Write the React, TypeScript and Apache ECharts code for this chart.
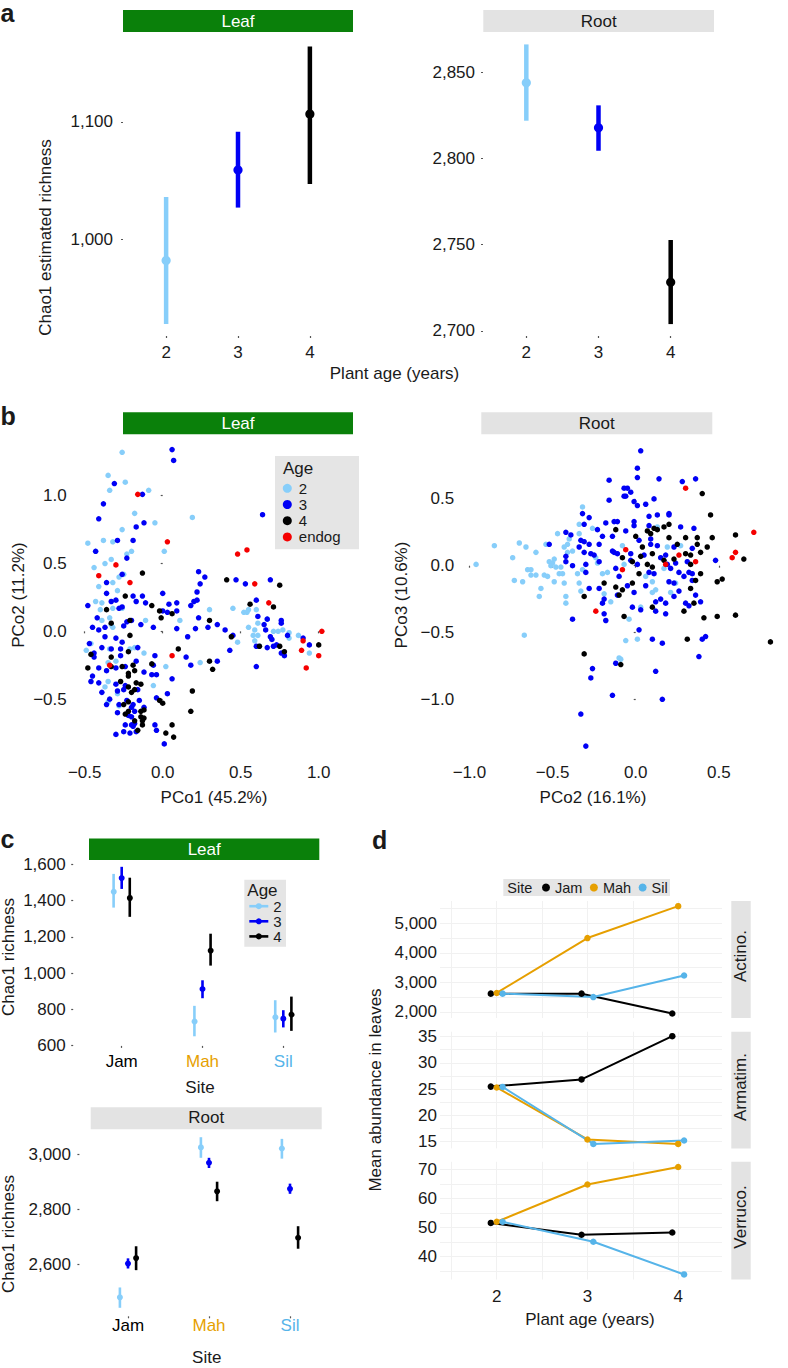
import React, { useEffect, useRef } from 'react';
import * as echarts from 'echarts';

const FONT = '"Liberation Sans", Arial, Helvetica, sans-serif';
const INK = '#1a1a1a';
const STRIP_GREEN = '#0a800a';
const STRIP_GREY = '#e3e3e3';
const LEGEND_GREY = '#e5e5e5';

const AGE_COLORS = ['#87CEFA', '#0000F5', '#000000'];
const ENDOG_COLOR = '#F50000';
const SITE_COLORS = ['#000000', '#E69F00', '#56B4E9'];

// ---------- panel a : Chao1 by plant age ----------
const ageNames = ['2', '3', '4'];
const plantAge = [2, 3, 4];
const leafChaoMean = [982, 1059, 1106.5];
const leafChaoLow = [928, 1027, 1047];
const leafChaoHigh = [1036, 1091.5, 1164];
const rootChaoMean = [2843.8, 2817.7, 2728.2];
const rootChaoLow = [2821.8, 2804.4, 2704];
const rootChaoHigh = [2866, 2830.7, 2752.7];
const leafChaoTicks = [1000, 1100];
const rootChaoTicks = [2700, 2750, 2800, 2850];

// ---------- panel b : PCoA ----------
const leafPcoAge2 = [
  [-0.26, 1.32], [-0.35, 1.15], [-0.24, 1.1], [-0.34, 1.04], [-0.09, 1.04], [-0.18, 0.87], [-0.05, 0.8], [-0.26, 0.75],
  [0.19, 0.84], [-0.48, 0.65], [-0.43, 0.59], [-0.38, 0.67], [-0.32, 0.66], [-0.2, 0.59], [-0.23, 0.57], [0.01, 0.59],
  [-0.44, 0.47], [-0.37, 0.5], [-0.33, 0.53], [-0.41, 0.33], [-0.25, 0.42], [-0.28, 0.4], [-0.32, 0.36], [-0.29, 0.3],
  [-0.43, 0.22], [-0.39, 0.21], [-0.32, 0.17], [-0.26, 0.17], [0.3, 0.16], [0.45, 0.17], [0.54, 0.14], [0.55, 0.16],
  [0.52, 0.14], [-0.39, 0.08], [-0.34, 0.1], [-0.32, 0.03], [-0.11, 0.08], [0.11, 0.08], [0.48, -0.08], [0.55, 0.03],
  [0.59, 0.01], [0.61, -0.03], [0.71, 0.0], [0.74, 0.0], [0.77, 0.01], [0.81, -0.01], [0.87, -0.03], [0.94, -0.16],
  [0.58, -0.03], [-0.49, -0.14], [-0.35, -0.23], [-0.3, -0.22], [-0.21, -0.13], [-0.18, -0.12], [-0.12, -0.16],
  [0.02, -0.26], [0.24, -0.23], [-0.37, -0.41], [-0.35, -0.37], [-0.06, -0.4], [-0.29, -0.46], [0.6, 0.16],
  [-0.4, 0.16], [-0.33, 0.05], [-0.34, -0.13], [-0.28, -0.55], [-0.35, -0.52], [-0.46, -0.09], [0.61, 0.06],
  [0.67, 0.09], [0.81, -0.05], [0.59, -0.07], [0.62, -0.11],
];
const leafPcoAge3 = [
  [0.06, 1.34], [0.07, 1.26], [-0.31, 1.09], [-0.13, 1.01], [-0.38, 0.94], [-0.41, 0.83], [-0.17, 0.77], [-0.12, 0.8],
  [0.64, 0.86], [-0.43, 0.59], [-0.29, 0.67], [-0.19, 0.67], [-0.23, 0.54], [-0.26, 0.42], [-0.36, 0.36], [-0.36, 0.28],
  [0.23, 0.44], [0.24, 0.35], [0.27, 0.4], [0.22, 0.29], [0.47, 0.38], [0.53, 0.35], [0.69, 0.38], [0.6, 0.23],
  [-0.48, 0.19], [-0.33, 0.22], [-0.28, 0.17], [-0.19, 0.26], [-0.17, 0.22], [-0.13, 0.26], [-0.11, 0.21], [0.0, 0.28],
  [0.04, 0.2], [0.09, 0.21], [0.09, 0.15], [0.18, 0.19], [0.2, 0.22], [0.23, 0.1], [0.67, 0.09], [0.76, 0.08],
  [0.76, 0.06], [-0.45, 0.03], [-0.41, 0.01], [-0.42, 0.1], [-0.37, 0.03], [-0.25, 0.04], [-0.23, 0.07], [-0.2, 0.08],
  [-0.06, 0.03], [0.03, 0.14], [0.09, 0.02], [0.16, -0.04], [0.21, 0.02], [0.29, 0.03], [0.35, 0.05], [0.4, 0.01],
  [0.45, -0.03], [0.66, 0.01], [0.9, -0.05], [0.94, -0.1], [0.6, -0.11], [0.67, -0.12], [0.7, -0.06], [0.73, -0.1],
  [0.76, -0.16], [0.78, -0.18], [0.71, -0.11], [-0.47, -0.09], [-0.44, -0.16], [-0.39, -0.12], [-0.33, -0.13],
  [-0.27, -0.13], [-0.27, -0.18], [-0.16, -0.12], [-0.05, -0.18], [0.15, -0.19], [0.18, -0.25], [0.35, -0.22],
  [0.43, -0.14], [0.6, -0.26], [-0.41, -0.27], [-0.36, -0.29], [-0.3, -0.27], [-0.24, -0.26], [-0.12, -0.3],
  [-0.04, -0.32], [-0.46, -0.37], [-0.41, -0.38], [-0.3, -0.39], [-0.24, -0.4], [-0.25, -0.43], [-0.29, -0.44],
  [-0.39, -0.45], [-0.34, -0.5], [-0.36, -0.54], [-0.28, -0.54], [-0.23, -0.51], [-0.16, -0.43], [-0.15, -0.51],
  [-0.12, -0.56], [-0.04, -0.49], [0.03, -0.46], [-0.2, -0.56], [-0.18, -0.59], [-0.29, -0.6], [-0.22, -0.62],
  [-0.2, -0.63], [-0.24, -0.69], [-0.2, -0.69], [-0.19, -0.7], [-0.3, -0.76], [-0.25, -0.74], [-0.17, -0.74],
  [-0.05, -0.69], [-0.04, -0.73], [0.01, -0.83], [-0.3, 0.23], [-0.26, 0.18], [0.0, 0.15], [0.22, 0.23],
  [-0.14, 0.05], [-0.37, -0.04], [-0.3, -0.05], [-0.26, -0.08], [-0.44, -0.19], [-0.17, -0.22], [-0.06, -0.25],
  [-0.45, -0.33], [-0.07, -0.32], [0.06, -0.35], [-0.19, -0.54], [-0.21, -0.75], [-0.18, -0.68], [0.61, 0.11],
  [0.65, 0.05], [0.69, -0.04], [0.8, -0.03],
];
const leafPcoAge4 = [
  [-0.13, 0.43], [-0.24, 0.26], [0.41, 0.38], [0.75, 0.34], [0.56, 0.2], [0.71, 0.18], [-0.36, 0.16], [-0.07, 0.19],
  [-0.02, 0.15], [0.3, 0.08], [-0.33, 0.06], [-0.01, 0.1], [0.44, -0.04], [1.0, -0.1], [0.62, -0.11], [0.75, -0.11],
  [0.78, -0.15], [-0.46, -0.17], [-0.22, -0.15], [0.1, -0.13], [0.3, -0.22], [0.32, -0.28], [-0.48, -0.27],
  [-0.33, -0.26], [-0.26, -0.26], [-0.19, -0.25], [-0.18, -0.29], [-0.07, -0.24], [-0.27, -0.37], [-0.22, -0.33],
  [-0.22, -0.41], [-0.18, -0.43], [-0.17, -0.38], [-0.14, -0.39], [-0.22, -0.52], [-0.2, -0.45], [-0.02, -0.51],
  [0.0, -0.53], [0.19, -0.44], [-0.25, -0.54], [-0.22, -0.59], [-0.14, -0.59], [-0.12, -0.58], [-0.24, -0.61],
  [-0.18, -0.66], [-0.14, -0.63], [-0.13, -0.66], [-0.12, -0.64], [-0.13, -0.69], [-0.16, -0.73], [0.02, -0.75],
  [0.06, -0.69], [0.07, -0.78], [0.18, -0.59], [0.06, 0.13], [-0.21, 0.08], [-0.21, -0.03], [-0.33, -0.19],
  [-0.22, -0.31],
];
const leafPcoEndog = [
  [-0.16, 1.01], [0.03, 0.66], [0.48, 0.57], [0.54, 0.6], [-0.3, 0.49], [-0.41, 0.41], [-0.21, 0.36], [0.59, 0.35],
  [0.68, 0.21], [0.06, -0.18], [0.9, -0.07], [1.02, 0.0], [0.89, -0.14], [1.0, -0.18], [0.92, -0.27], [-0.34, -0.25],
];
const rootPcoAge2 = [
  [-0.96, 0.01], [-0.85, 0.15], [-0.74, 0.06], [-0.7, 0.17], [-0.66, 0.14], [-0.73, -0.11], [-0.68, -0.12],
  [-0.65, -0.03], [-0.63, -0.03], [-0.63, -0.07], [-0.6, -0.07], [-0.6, 0.1], [-0.57, -0.17], [-0.58, -0.23],
  [-0.55, -0.07], [-0.53, -0.08], [-0.54, 0.16], [-0.47, 0.24], [-0.52, 0.03], [-0.5, 0.02], [-0.49, 0.05],
  [-0.51, 0.0], [-0.48, -0.01], [-0.49, -0.12], [-0.46, -0.06], [-0.43, -0.13], [-0.44, -0.06], [-0.45, -0.01],
  [-0.42, -0.23], [-0.42, -0.28], [-0.41, 0.1], [-0.41, 0.16], [-0.43, 0.14], [-0.4, 0.2], [-0.38, 0.11],
  [-0.35, -0.06], [-0.34, -0.13], [-0.33, -0.19], [-0.32, -0.03], [-0.34, 0.31], [-0.32, 0.44], [-0.34, 0.24],
  [-0.26, 0.28], [-0.24, 0.06], [-0.23, 0.02], [-0.2, -0.06], [-0.17, -0.05], [-0.19, -0.21], [-0.15, -0.27],
  [-0.67, -0.52], [-0.1, -0.69], [-0.08, 0.15], [-0.07, 0.01], [0.06, -0.08], [0.1, -0.12], [0.1, -0.2],
  [0.12, -0.18], [0.19, 0.14], [0.21, -0.2], [0.24, -0.13], [0.27, 0.15], [0.17, -0.02], [-0.04, -0.4],
  [-0.06, -0.56], [0.01, -0.55], [0.03, -0.31], [0.13, 0.29], [-0.09, -0.7],
];
const rootPcoAge3 = [
  [-0.16, 0.64], [-0.07, 0.58], [-0.07, 0.52], [-0.16, 0.49], [-0.32, 0.39], [-0.28, 0.36], [-0.31, 0.31],
  [-0.23, 0.27], [-0.18, 0.32], [-0.13, 0.33], [-0.11, 0.33], [-0.14, 0.22], [-0.2, 0.22], [-0.39, 0.23],
  [-0.42, 0.25], [-0.52, 0.16], [-0.33, 0.19], [-0.31, 0.18], [-0.28, 0.16], [-0.22, 0.16], [-0.34, 0.14],
  [-0.31, 0.1], [-0.27, 0.09], [-0.25, 0.08], [-0.42, 0.07], [-0.42, 0.03], [-0.38, 0.0], [-0.3, 0.01],
  [-0.22, 0.03], [-0.14, 0.11], [-0.13, 0.1], [-0.11, 0.09], [-0.3, -0.05], [-0.28, -0.17], [-0.22, -0.17],
  [-0.19, -0.25], [-0.2, -0.28], [-0.19, -0.36], [-0.18, -0.41], [-0.38, -0.4], [-0.1, -0.08], [-0.11, -0.22],
  [-0.12, -0.02], [-0.26, -0.77], [-0.27, -0.84], [-0.14, -0.97], [-0.33, -1.11], [-0.3, -1.35], [-0.12, -0.73],
  [0.03, 0.86], [0.01, 0.73], [0.01, 0.66], [0.14, 0.65], [0.28, 0.63], [0.36, 0.65], [-0.05, 0.58], [-0.03, 0.55],
  [-0.06, 0.52], [-0.01, 0.48], [0.01, 0.45], [0.06, 0.46], [0.11, 0.5], [0.2, 0.39], [0.2, 0.38], [0.13, 0.38],
  [0.08, 0.37], [-0.01, 0.33], [-0.01, 0.3], [0.08, 0.3], [-0.06, 0.26], [0.27, 0.29], [0.35, 0.28], [0.02, 0.19],
  [0.09, 0.2], [0.09, 0.16], [0.13, 0.15], [0.23, 0.14], [0.34, 0.13], [-0.03, 0.09], [0.05, 0.08], [0.15, 0.06],
  [0.18, 0.08], [-0.03, 0.04], [0.01, 0.01], [0.19, 0.01], [0.24, 0.02], [0.31, 0.03], [0.21, -0.02], [0.08, -0.05],
  [0.11, -0.06], [0.26, -0.05], [0.29, -0.08], [0.32, -0.05], [0.34, -0.06], [0.34, -0.11], [0.2, -0.12],
  [0.23, -0.13], [-0.05, -0.15], [-0.01, -0.2], [0.06, -0.15], [0.15, -0.25], [0.12, -0.27], [0.18, -0.28],
  [0.23, -0.23], [0.26, -0.19], [0.3, -0.28], [0.32, -0.3], [0.36, -0.22], [0.39, -0.27], [-0.02, -0.31],
  [0.03, -0.33], [0.12, -0.34], [0.18, -0.36], [0.02, -0.48], [0.1, -0.55], [0.16, -0.58], [0.4, -0.55],
  [0.42, -0.53], [0.38, -0.68], [0.12, -0.79], [0.16, -1.0], [0.48, 0.04],
];
const rootPcoAge4 = [
  [-0.12, 0.27], [-0.08, 0.06], [-0.19, -0.13], [-0.12, -0.16], [-0.1, -0.22], [-0.08, -0.18], [-0.31, -0.23],
  [-0.07, -0.38], [-0.31, -0.66], [-0.09, -0.74], [0.4, 0.54], [0.45, 0.38], [0.2, 0.31], [0.11, 0.28], [0.07, 0.26],
  [0.09, 0.24], [0.0, 0.22], [0.2, 0.21], [0.3, 0.21], [0.37, 0.21], [0.46, 0.21], [0.6, 0.23], [0.04, 0.14],
  [0.25, 0.16], [0.37, 0.16], [0.43, 0.14], [0.03, 0.07], [0.1, 0.09], [0.39, 0.1], [0.3, 0.09], [0.33, 0.08],
  [0.65, 0.05], [-0.02, 0.03], [0.07, 0.01], [0.1, -0.01], [0.17, 0.04], [0.23, 0.05], [0.33, 0.01], [0.39, -0.06],
  [0.36, -0.11], [0.02, -0.06], [-0.02, -0.13], [0.49, -0.12], [0.52, -0.1], [0.33, -0.17], [0.35, -0.28],
  [0.29, -0.34], [0.1, -0.31], [0.41, -0.39], [0.49, -0.38], [0.6, -0.37], [0.31, -0.55], [0.81, -0.57],
  [0.13, 0.27], [0.17, 0.29],
];
const rootPcoEndog = [
  [-0.06, 0.12], [-0.08, -0.03], [-0.24, -0.34], [0.3, 0.58], [0.71, 0.25], [0.6, 0.1], [0.58, 0.06], [0.36, 0.03],
  [0.26, 0.08], [0.18, 0.01],
];
const leafPcoTicksX = [-0.5, 0, 0.5, 1];
const leafPcoTicksY = [-0.5, 0, 0.5, 1];
const rootPcoTicksX = [-1, -0.5, 0, 0.5];
const rootPcoTicksY = [-1, -0.5, 0, 0.5];

// ---------- panel c : Chao1 by site (rows = age 2,3,4 ; cols = Jam, Mah, Sil) ----------
const siteNames = ['Jam', 'Mah', 'Sil'];
const leafSiteMean = [[1454, 738, 761], [1524, 912, 748], [1418, 1128, 776]];
const leafSiteLow = [[1361, 651, 672], [1464, 861, 700], [1310, 1041, 681]];
const leafSiteHigh = [[1547, 819, 850], [1586, 960, 795], [1526, 1217, 870]];
const rootSiteMean = [[2479, 3025, 3021], [2602, 2969, 2874], [2622, 2865, 2696]];
const rootSiteLow = [[2441, 2987, 2984], [2584, 2950, 2856], [2578, 2829, 2656]];
const rootSiteHigh = [[2515, 3062, 3056], [2621, 2987, 2893], [2665, 2900, 2738]];
const leafSiteTicks = [600, 800, 1000, 1200, 1400, 1600];
const rootSiteTicks = [2600, 2800, 3000];

// ---------- panel d : mean abundance in leaves ----------
const actinoJam = [2616, 2616, 1942];
const actinoMah = [2640, 4500, 5581];
const actinoSil = [2616, 2500, 3233];
const armatimJam = [25.46, 26.83, 35.07];
const armatimMah = [25.3, 15.39, 14.54];
const armatimSil = [25.4, 14.54, 15.2];
const verrucoJam = [51.6, 47.5, 48.3];
const verrucoMah = [52.0, 64.9, 70.95];
const verrucoSil = [52.0, 45.1, 33.8];
const actinoTicks = [2000, 3000, 4000, 5000];
const actinoMinor = [2500, 3500, 4500, 5500];
const armatimTicks = [15, 20, 25, 30, 35];
const armatimMinor = [17.5, 22.5, 27.5, 32.5];
const verrucoTicks = [40, 50, 60, 70];
const verrucoMinor = [35, 45, 55, 65];
const ageGridMinor = [1.5, 2.5, 3.5];

const DODGE_C = 0.1;
const DODGE_D = 0.065;

const fmtThousands = (v: any) => Math.round(Number(v)).toLocaleString('en-US');
const fmtDec = (v: any) => {
  const n = Number(v);
  return (n < 0 ? '\u2212' : '') + Math.abs(n).toFixed(1);
};
const fmtInt = (v: any) => String(Math.round(Number(v)));

type AxisOpts = {
  grid: number;
  min: number;
  max: number;
  labels?: number[];
  ticks?: number[];
  fmt?: any;
  margin?: number;
  showTicks?: boolean;
  split?: boolean;
  rich?: any;
};

function axis(o: AxisOpts) {
  return {
    type: 'value',
    gridIndex: o.grid,
    min: o.min,
    max: o.max,
    axisLine: { show: false },
    axisTick: {
      show: o.showTicks !== false,
      customValues: o.ticks ?? o.labels ?? [],
      length: 2,
      lineStyle: { color: '#555', width: 1.2 },
    },
    axisLabel: {
      show: !!o.labels,
      customValues: o.labels ?? [],
      formatter: o.fmt,
      margin: o.margin ?? 6,
      fontSize: 17,
      color: INK,
      fontFamily: FONT,
      rich: o.rich,
      hideOverlap: false,
    },
    splitLine: { show: !!o.split, lineStyle: { color: '#f1f1f1', width: 1 } },
  };
}

function pointRange(name: string, grid: number, data: number[][], color: string, lw: number, r: number) {
  return {
    type: 'custom',
    name,
    xAxisIndex: grid,
    yAxisIndex: grid,
    itemStyle: { color },
    encode: { x: 0, y: [1, 2, 3] },
    data,
    renderItem: (_p: any, api: any) => {
      const x = api.value(0);
      const m = api.coord([x, api.value(1)]);
      const lo = api.coord([x, api.value(2)]);
      const hi = api.coord([x, api.value(3)]);
      return {
        type: 'group',
        children: [
          { type: 'line', shape: { x1: lo[0], y1: lo[1], x2: hi[0], y2: hi[1] }, style: { stroke: color, lineWidth: lw } },
          { type: 'circle', shape: { cx: m[0], cy: m[1], r }, style: { fill: color } },
        ],
      };
    },
  };
}

function scatter(name: string, grid: number, data: number[][], color: string) {
  return {
    type: 'scatter',
    name,
    xAxisIndex: grid,
    yAxisIndex: grid,
    data,
    symbol: 'circle',
    symbolSize: 5.5,
    itemStyle: { color, opacity: 1 },
  };
}

function siteLine(name: string, grid: number, values: number[], color: string, offset: number) {
  return {
    type: 'line',
    name,
    xAxisIndex: grid,
    yAxisIndex: grid,
    data: values.map((v, i) => [plantAge[i] + offset, v]),
    symbol: 'circle',
    symbolSize: 6.5,
    showSymbol: true,
    lineStyle: { color, width: 2 },
    itemStyle: { color },
  };
}

function txt(text: string, x: number, y: number, o: any = {}) {
  return {
    type: 'text',
    x,
    y,
    rotation: o.rotation ?? 0,
    z: o.z ?? 6,
    silent: true,
    style: {
      text,
      fill: o.fill ?? INK,
      fontSize: o.size ?? 17,
      fontWeight: o.weight ?? 'normal',
      fontFamily: FONT,
      align: o.align ?? 'center',
      verticalAlign: 'middle',
    },
  };
}

function rect(x1: number, y1: number, x2: number, y2: number, fill: string, z = 3) {
  return { type: 'rect', z, silent: true, shape: { x: x1, y: y1, width: x2 - x1, height: y2 - y1 }, style: { fill } };
}

function buildOption() {
  const grid = [
    { left: 123, top: 32.5, width: 230, height: 303.5 },
    { left: 483, top: 32.5, width: 231, height: 303.5 },
    { left: 72.7, top: 434.7, width: 262.7, height: 324.1 },
    { left: 461.1, top: 436.1, width: 324.3, height: 324.7 },
    { left: 73.2, top: 858.3, width: 258.6, height: 187.6 },
    { left: 79.4, top: 1128.7, width: 259.2, height: 187.6 },
    { left: 440, top: 901, width: 282, height: 117 },
    { left: 440, top: 1031.7, width: 282, height: 116.7 },
    { left: 440, top: 1161.8, width: 282, height: 117.7 },
  ];

  const siteRich = {
    s1: { color: SITE_COLORS[0], fontSize: 17, fontFamily: FONT },
    s2: { color: SITE_COLORS[1], fontSize: 17, fontFamily: FONT },
    s3: { color: SITE_COLORS[2], fontSize: 17, fontFamily: FONT },
  };
  const siteFmt = (v: any) => {
    const i = Math.round(Number(v));
    return `{s${i}|${siteNames[i - 1]}}`;
  };

  const xAxis = [
    axis({ grid: 0, min: 1.4, max: 4.6, labels: plantAge, fmt: fmtInt, margin: 8 }),
    axis({ grid: 1, min: 1.4, max: 4.6, labels: plantAge, fmt: fmtInt, margin: 8 }),
    axis({ grid: 2, min: -0.577, max: 1.107, labels: leafPcoTicksX, fmt: fmtDec, margin: 5 }),
    axis({ grid: 3, min: -1.05, max: 0.9, labels: rootPcoTicksX, fmt: fmtDec, margin: 3 }),
    axis({ grid: 4, min: 0.4, max: 3.6, labels: [1, 2, 3], fmt: siteFmt, rich: siteRich, margin: 7 }),
    axis({ grid: 5, min: 0.4, max: 3.6, labels: [1, 2, 3], fmt: siteFmt, rich: siteRich, margin: 1 }),
    axis({ grid: 6, min: 1.375, max: 4.483, ticks: [...plantAge, ...ageGridMinor], showTicks: false, split: true }),
    axis({ grid: 7, min: 1.375, max: 4.483, ticks: [...plantAge, ...ageGridMinor], showTicks: false, split: true }),
    axis({ grid: 8, min: 1.375, max: 4.483, labels: plantAge, fmt: fmtInt, ticks: [...plantAge, ...ageGridMinor], showTicks: false, split: true, margin: 8 }),
  ];
  const yAxis = [
    axis({ grid: 0, min: 917.8, max: 1175.9, labels: leafChaoTicks, fmt: fmtThousands, margin: 10 }),
    axis({ grid: 1, min: 2697.1, max: 2872.9, labels: rootChaoTicks, fmt: fmtThousands, margin: 8 }),
    axis({ grid: 2, min: -0.94, max: 1.45, labels: leafPcoTicksY, fmt: fmtDec, margin: 6 }),
    axis({ grid: 3, min: -1.46, max: 0.97, labels: rootPcoTicksY, fmt: fmtDec, margin: 7 }),
    axis({ grid: 4, min: 598, max: 1633, labels: leafSiteTicks, fmt: fmtThousands, margin: 7.5 }),
    axis({ grid: 5, min: 2410, max: 3093, labels: rootSiteTicks, fmt: fmtThousands, margin: 8.4 }),
    axis({ grid: 6, min: 1791, max: 5756, labels: actinoTicks, ticks: [...actinoTicks, ...actinoMinor], fmt: fmtThousands, showTicks: false, split: true, margin: 3 }),
    axis({ grid: 7, min: 13.69, max: 35.92, labels: armatimTicks, ticks: [...armatimTicks, ...armatimMinor], fmt: fmtInt, showTicks: false, split: true, margin: 3 }),
    axis({ grid: 8, min: 32.05, max: 72.73, labels: verrucoTicks, ticks: [...verrucoTicks, ...verrucoMinor], fmt: fmtInt, showTicks: false, split: true, margin: 3 }),
  ];

  const series: any[] = [];
  // panel a
  ageNames.forEach((a, i) => {
    series.push(pointRange(`Leaf richness age ${a}`, 0, [[plantAge[i], leafChaoMean[i], leafChaoLow[i], leafChaoHigh[i]]], AGE_COLORS[i], 4.5, 4.6));
    series.push(pointRange(`Root richness age ${a}`, 1, [[plantAge[i], rootChaoMean[i], rootChaoLow[i], rootChaoHigh[i]]], AGE_COLORS[i], 4.5, 4.6));
  });
  // panel b
  series.push(scatter('2', 2, leafPcoAge2, AGE_COLORS[0]));
  series.push(scatter('3', 2, leafPcoAge3, AGE_COLORS[1]));
  series.push(scatter('4', 2, leafPcoAge4, AGE_COLORS[2]));
  series.push(scatter('endog', 2, leafPcoEndog, ENDOG_COLOR));
  series.push(scatter('2', 3, rootPcoAge2, AGE_COLORS[0]));
  series.push(scatter('3', 3, rootPcoAge3, AGE_COLORS[1]));
  series.push(scatter('4', 3, rootPcoAge4, AGE_COLORS[2]));
  series.push(scatter('endog', 3, rootPcoEndog, ENDOG_COLOR));
  // panel c
  ageNames.forEach((a, ai) => {
    const off = (ai - 1) * DODGE_C;
    series.push(pointRange(`Leaf site age ${a}`, 4, siteNames.map((_, s) => [s + 1 + off, leafSiteMean[ai][s], leafSiteLow[ai][s], leafSiteHigh[ai][s]]), AGE_COLORS[ai], 2.6, 3));
    series.push(pointRange(`Root site age ${a}`, 5, siteNames.map((_, s) => [s + 1 + off, rootSiteMean[ai][s], rootSiteLow[ai][s], rootSiteHigh[ai][s]]), AGE_COLORS[ai], 2.6, 3));
  });
  // panel d
  const dSets = [
    [actinoJam, actinoMah, actinoSil],
    [armatimJam, armatimMah, armatimSil],
    [verrucoJam, verrucoMah, verrucoSil],
  ];
  dSets.forEach((set, gi) => {
    set.forEach((vals, si) => {
      series.push(siteLine(siteNames[si], 6 + gi, vals, SITE_COLORS[si], (si - 1) * DODGE_D));
    });
  });

  const legend = [
    {
      orient: 'vertical',
      left: 282.8,
      top: 480.2,
      padding: 0,
      itemGap: 0,
      itemWidth: 9,
      itemHeight: 9,
      selectedMode: false,
      data: ['2', '3', '4', 'endog'].map((n) => ({ name: n, icon: 'circle' })),
      textStyle: { fontSize: 15, lineHeight: 16.2, color: INK, fontFamily: FONT, padding: [0, 0, 0, 2] },
      z: 4,
    },
    {
      orient: 'horizontal',
      left: 542,
      top: 879.5,
      padding: 0,
      itemGap: 7.5,
      itemWidth: 8,
      itemHeight: 8,
      selectedMode: false,
      data: siteNames.map((n) => ({ name: n, icon: 'circle' })),
      textStyle: { fontSize: 14.5, lineHeight: 16, color: INK, fontFamily: FONT },
      z: 4,
    },
  ];

  const graphic: any[] = [
    // panel letters
    txt('a', 0.5, 13, { size: 25, weight: 'bold', align: 'left' }),
    txt('b', 0.5, 416.3, { size: 25, weight: 'bold', align: 'left' }),
    txt('c', 0.5, 838.5, { size: 25, weight: 'bold', align: 'left' }),
    txt('d', 372, 840, { size: 25, weight: 'bold', align: 'left' }),
    // strips a
    rect(123, 10, 353, 32, STRIP_GREEN),
    txt('Leaf', 238, 21.7, { fill: '#ffffff' }),
    rect(483.3, 10, 714, 32, STRIP_GREY),
    txt('Root', 598.7, 21.7),
    // strips b
    rect(123, 412.3, 353, 434.3, STRIP_GREEN),
    txt('Leaf', 238, 423.7, { fill: '#ffffff' }),
    rect(481.3, 412.3, 712.3, 434.3, STRIP_GREY),
    txt('Root', 596.8, 423.7),
    // strips c
    rect(89, 838.6, 319.3, 859.9, STRIP_GREEN),
    txt('Leaf', 204.2, 849.6, { fill: '#ffffff' }),
    rect(90.7, 1107.2, 321.7, 1129.2, STRIP_GREY),
    txt('Root', 206.2, 1117),
    // strips d
    rect(731.3, 901, 750.7, 1018, STRIP_GREY),
    txt('Actino.', 740.5, 956, { rotation: Math.PI / 2 }),
    rect(731.3, 1031.7, 750.7, 1148.4, STRIP_GREY),
    txt('Armatim.', 740.5, 1087, { rotation: Math.PI / 2 }),
    rect(731.3, 1161.8, 750.7, 1279.5, STRIP_GREY),
    txt('Verruco.', 740.5, 1217, { rotation: Math.PI / 2 }),
    // axis titles
    txt('Chao1 estimated richness', 45, 237.5, { rotation: Math.PI / 2 }),
    txt('Plant age (years)', 394.5, 373),
    txt('PCo2 (11.2%)', 18.5, 595, { rotation: Math.PI / 2 }),
    txt('PCo1 (45.2%)', 214, 797.5),
    txt('PCo3 (10.6%)', 401, 595, { rotation: Math.PI / 2 }),
    txt('PCo2 (16.1%)', 593, 797.5),
    txt('Chao1 richness', 8.7, 957, { rotation: Math.PI / 2 }),
    txt('Site', 200, 1087.3),
    txt('Chao1 richness', 8.7, 1234, { rotation: Math.PI / 2 }),
    txt('Site', 206.7, 1357.5),
    txt('Mean abundance in leaves', 375, 1090, { rotation: Math.PI / 2 }),
    txt('Plant age (years)', 590, 1319.8),
    // legend b box
    rect(275, 456, 359, 549.3, LEGEND_GREY),
    txt('Age', 283, 468.3, { align: 'left' }),
    // legend d box
    rect(503.3, 879, 670, 895.9, LEGEND_GREY),
    txt('Site', 507.3, 887.5, { align: 'left', size: 14.5 }),
    // legend c (line + point keys)
    rect(244.3, 879.8, 286, 946.7, LEGEND_GREY),
    txt('Age', 247.3, 890, { align: 'left' }),
  ];
  const legendCY = [906.2, 921.3, 936.4];
  ageNames.forEach((a, i) => {
    graphic.push({
      type: 'line', z: 5, silent: true,
      shape: { x1: 249.3, y1: legendCY[i], x2: 268.3, y2: legendCY[i] },
      style: { stroke: AGE_COLORS[i], lineWidth: 2.6 },
    });
    graphic.push({ type: 'circle', z: 5, silent: true, shape: { cx: 258.8, cy: legendCY[i], r: 3 }, style: { fill: AGE_COLORS[i] } });
    graphic.push(txt(a, 273.3, legendCY[i], { align: 'left', size: 15 }));
  });

  return {
    animation: false,
    backgroundColor: '#ffffff',
    textStyle: { fontFamily: FONT },
    grid,
    xAxis,
    yAxis,
    legend,
    series,
    graphic,
  };
}

export default function App() {
  const ref = useRef<HTMLDivElement>(null);
  useEffect(() => {
    if (!ref.current) return;
    const chart = echarts.init(ref.current, null, { renderer: 'svg' });
    chart.setOption(buildOption() as any);
    return () => chart.dispose();
  }, []);
  return (
    <div
      ref={ref}
      style={{ position: 'absolute', left: 0, top: 0, width: 788, height: 1368, background: '#ffffff' }}
    />
  );
}
